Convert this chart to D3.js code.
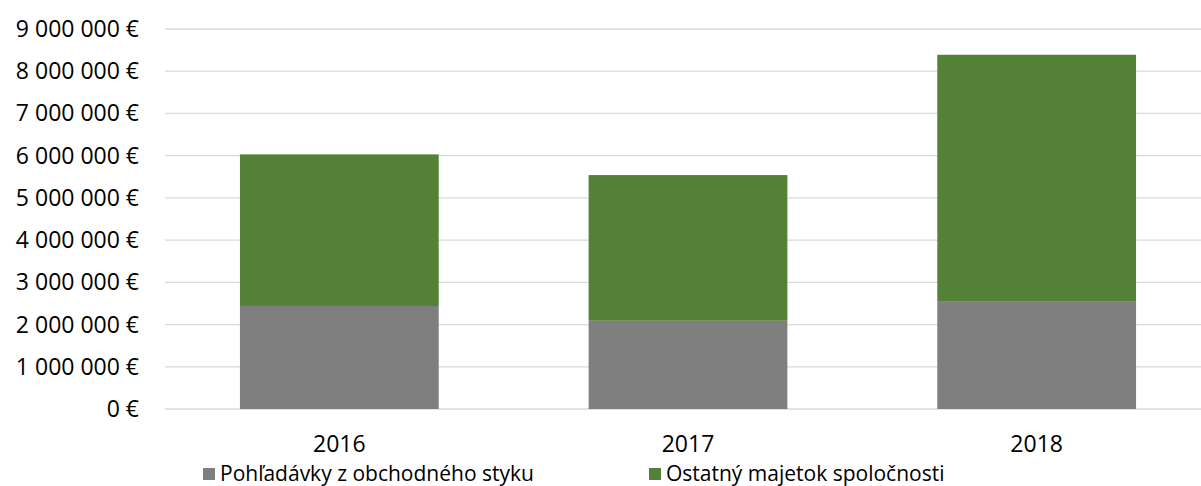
<!DOCTYPE html>
<html>
<head>
<meta charset="utf-8">
<script src="https://cdn.jsdelivr.net/npm/d3@7"></script>
<style>
  body { margin: 0; background: #fff; }
  svg { display: block; font-family: "Open Sans", sans-serif; }
</style>
</head>
<body>
<svg id="chart" width="1201" height="486"></svg>
<script>
const years = ['2016', '2017', '2018'];
const receivables = [2440000, 2090000, 2540000];
const otherAssets = [3590000, 3450000, 5850000];
const seriesNames = ['Pohľadávky z obchodného styku', 'Ostatný majetok spoločnosti'];
const colors = ['#7f7f7f', '#538135'];
const yTicks = [0, 1e6, 2e6, 3e6, 4e6, 5e6, 6e6, 7e6, 8e6, 9e6];

const svg = d3.select('#chart');

const x = d3.scaleBand()
  .domain(years)
  .range([165, 1211])
  .paddingInner(0.43)
  .paddingOuter(0.215);

const y = d3.scaleLinear()
  .domain([0, 9e6])
  .range([409, 29]);

const fmt = v => d3.format(',')(v).replace(/,/g, ' ') + ' €';

// gridlines
svg.append('g')
  .selectAll('line')
  .data(yTicks)
  .join('line')
  .attr('x1', 165)
  .attr('x2', 1211)
  .attr('y1', d => y(d))
  .attr('y2', d => y(d))
  .attr('stroke', '#d9d9d9')
  .attr('stroke-width', 1.3);

// y axis labels
svg.append('g')
  .selectAll('text')
  .data(yTicks)
  .join('text')
  .attr('x', 139)
  .attr('y', d => y(d))
  .attr('dy', '0.35em')
  .attr('text-anchor', 'end')
  .attr('font-size', 23)
  .attr('fill', '#000')
  .text(fmt);

// stacked bars
const rows = years.map((yr, i) => ({ year: yr, a: receivables[i], b: otherAssets[i] }));
const stack = d3.stack().keys(['a', 'b'])(rows);

svg.append('g')
  .selectAll('g')
  .data(stack)
  .join('g')
  .attr('fill', (d, i) => colors[i])
  .selectAll('rect')
  .data(d => d)
  .join('rect')
  .attr('x', d => x(d.data.year))
  .attr('width', x.bandwidth())
  .attr('y', d => y(d[1]))
  .attr('height', d => y(d[0]) - y(d[1]));

// x axis labels
svg.append('g')
  .selectAll('text')
  .data(years)
  .join('text')
  .attr('x', d => x(d) + x.bandwidth() / 2)
  .attr('y', 452)
  .attr('text-anchor', 'middle')
  .attr('font-size', 23)
  .attr('fill', '#000')
  .text(d => d);

// legend
const legendX = [203, 649];
const legend = svg.append('g')
  .selectAll('g')
  .data(seriesNames)
  .join('g')
  .attr('transform', (d, i) => `translate(${legendX[i]},468)`);

legend.append('rect')
  .attr('width', 12)
  .attr('height', 12)
  .attr('fill', (d, i) => colors[i]);

legend.append('text')
  .attr('x', 17)
  .attr('y', 6)
  .attr('dy', '0.35em')
  .attr('font-size', 21)
  .attr('fill', '#000')
  .text(d => d);
</script>
</body>
</html>
